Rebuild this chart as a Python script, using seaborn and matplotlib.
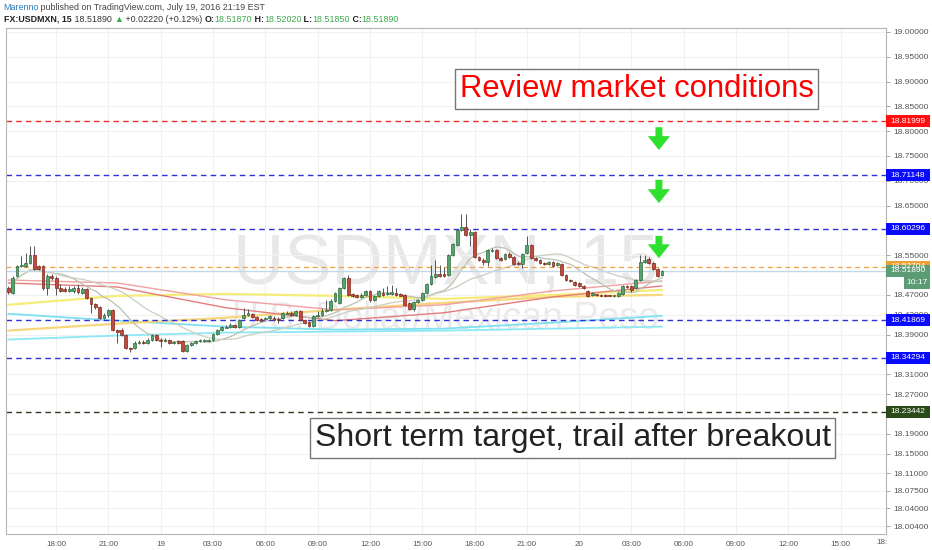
import numpy as np
import pandas as pd
import matplotlib
matplotlib.use("Agg")
import matplotlib.pyplot as plt
import matplotlib.transforms as mtransforms
from matplotlib.patches import Rectangle
import seaborn as sns

# ---- 15 minute candles, bar 0 = Jul 18 15:15 ----
opens = [
    18.484, 18.474, 18.508, 18.528, 18.528, 18.534, 18.550, 18.528, 18.528, 18.484,
    18.508, 18.504, 18.484, 18.482, 18.478, 18.478, 18.484, 18.474, 18.482, 18.464,
    18.452, 18.446, 18.424, 18.430, 18.440, 18.400, 18.400, 18.390, 18.362, 18.362,
    18.374, 18.376, 18.374, 18.380, 18.390, 18.380, 18.378, 18.380, 18.374, 18.378,
    18.378, 18.356, 18.368, 18.374, 18.378, 18.378, 18.378, 18.380, 18.392, 18.400,
    18.404, 18.406, 18.410, 18.406, 18.424, 18.430, 18.432, 18.426, 18.422, 18.422,
    18.424, 18.424, 18.422, 18.424, 18.432, 18.434, 18.430, 18.438, 18.420, 18.416,
    18.408, 18.428, 18.430, 18.438, 18.440, 18.458, 18.454, 18.484, 18.504, 18.472,
    18.470, 18.466, 18.470, 18.478, 18.460, 18.468, 18.474, 18.472, 18.472, 18.474,
    18.472, 18.470, 18.454, 18.442, 18.456, 18.460, 18.474, 18.492, 18.506, 18.512,
    18.512, 18.510, 18.550, 18.570, 18.600, 18.606, 18.590, 18.596, 18.546, 18.540,
    18.536, 18.558, 18.560, 18.544, 18.542, 18.552, 18.546, 18.534, 18.532, 18.554,
    18.570, 18.544, 18.540, 18.534, 18.532, 18.536, 18.530, 18.532, 18.510, 18.500,
    18.496, 18.494, 18.488, 18.478, 18.470, 18.472, 18.470, 18.470, 18.470, 18.468,
    18.468, 18.472, 18.488, 18.488, 18.484, 18.500, 18.536, 18.542, 18.534, 18.522,
    18.510,
]
highs = [
    18.488, 18.508, 18.530, 18.548, 18.554, 18.568, 18.568, 18.530, 18.530, 18.512,
    18.512, 18.508, 18.492, 18.486, 18.488, 18.488, 18.492, 18.486, 18.484, 18.466,
    18.454, 18.448, 18.434, 18.442, 18.442, 18.402, 18.404, 18.392, 18.364, 18.378,
    18.380, 18.380, 18.384, 18.392, 18.392, 18.384, 18.384, 18.382, 18.378, 18.380,
    18.380, 18.370, 18.376, 18.380, 18.382, 18.382, 18.382, 18.394, 18.402, 18.408,
    18.410, 18.414, 18.412, 18.422, 18.444, 18.442, 18.434, 18.428, 18.424, 18.426,
    18.430, 18.428, 18.426, 18.436, 18.438, 18.438, 18.440, 18.440, 18.422, 18.418,
    18.430, 18.438, 18.444, 18.460, 18.462, 18.476, 18.486, 18.506, 18.510, 18.474,
    18.472, 18.474, 18.480, 18.480, 18.470, 18.480, 18.484, 18.488, 18.490, 18.484,
    18.474, 18.472, 18.456, 18.458, 18.462, 18.476, 18.494, 18.530, 18.540, 18.530,
    18.526, 18.552, 18.574, 18.602, 18.634, 18.634, 18.602, 18.598, 18.548, 18.544,
    18.562, 18.564, 18.562, 18.546, 18.554, 18.556, 18.548, 18.538, 18.554, 18.588,
    18.572, 18.546, 18.542, 18.536, 18.538, 18.538, 18.536, 18.534, 18.512, 18.502,
    18.498, 18.496, 18.490, 18.480, 18.476, 18.472, 18.472, 18.472, 18.470, 18.470,
    18.476, 18.490, 18.490, 18.490, 18.502, 18.550, 18.550, 18.546, 18.536, 18.524,
    18.520,
]
lows = [
    18.472, 18.472, 18.506, 18.526, 18.526, 18.532, 18.520, 18.520, 18.480, 18.470,
    18.500, 18.470, 18.476, 18.476, 18.476, 18.474, 18.472, 18.472, 18.462, 18.434,
    18.442, 18.422, 18.422, 18.426, 18.398, 18.374, 18.388, 18.360, 18.354, 18.360,
    18.372, 18.372, 18.372, 18.378, 18.378, 18.364, 18.376, 18.372, 18.372, 18.372,
    18.354, 18.354, 18.366, 18.372, 18.376, 18.376, 18.376, 18.378, 18.390, 18.398,
    18.404, 18.404, 18.404, 18.404, 18.422, 18.428, 18.424, 18.418, 18.418, 18.420,
    18.422, 18.418, 18.414, 18.422, 18.432, 18.428, 18.428, 18.418, 18.412, 18.406,
    18.406, 18.426, 18.428, 18.436, 18.438, 18.456, 18.452, 18.482, 18.468, 18.466,
    18.464, 18.464, 18.468, 18.456, 18.458, 18.466, 18.468, 18.470, 18.470, 18.468,
    18.468, 18.448, 18.440, 18.438, 18.454, 18.458, 18.472, 18.490, 18.504, 18.506,
    18.506, 18.508, 18.548, 18.568, 18.598, 18.588, 18.568, 18.544, 18.538, 18.530,
    18.528, 18.556, 18.542, 18.538, 18.540, 18.544, 18.530, 18.530, 18.524, 18.552,
    18.542, 18.538, 18.532, 18.530, 18.530, 18.526, 18.528, 18.508, 18.498, 18.496,
    18.488, 18.486, 18.482, 18.466, 18.468, 18.468, 18.468, 18.466, 18.468, 18.466,
    18.466, 18.470, 18.484, 18.476, 18.482, 18.498, 18.534, 18.532, 18.520, 18.506,
    18.508,
]
closes = [
    18.476, 18.504, 18.528, 18.530, 18.534, 18.550, 18.522, 18.522, 18.484, 18.508,
    18.504, 18.484, 18.478, 18.478, 18.482, 18.484, 18.476, 18.482, 18.464, 18.452,
    18.446, 18.424, 18.430, 18.440, 18.400, 18.396, 18.390, 18.362, 18.360, 18.374,
    18.376, 18.374, 18.380, 18.390, 18.380, 18.378, 18.380, 18.374, 18.376, 18.374,
    18.356, 18.368, 18.374, 18.378, 18.380, 18.380, 18.380, 18.392, 18.400, 18.406,
    18.406, 18.410, 18.406, 18.420, 18.430, 18.434, 18.426, 18.420, 18.418, 18.424,
    18.428, 18.420, 18.420, 18.434, 18.434, 18.430, 18.438, 18.420, 18.414, 18.408,
    18.428, 18.430, 18.438, 18.440, 18.458, 18.474, 18.484, 18.504, 18.470, 18.468,
    18.466, 18.470, 18.478, 18.460, 18.468, 18.478, 18.470, 18.474, 18.476, 18.470,
    18.468, 18.450, 18.442, 18.456, 18.460, 18.474, 18.492, 18.508, 18.512, 18.508,
    18.508, 18.550, 18.572, 18.600, 18.606, 18.590, 18.596, 18.546, 18.540, 18.536,
    18.560, 18.560, 18.544, 18.540, 18.552, 18.546, 18.532, 18.532, 18.552, 18.570,
    18.544, 18.540, 18.534, 18.532, 18.536, 18.528, 18.534, 18.510, 18.500, 18.498,
    18.490, 18.488, 18.484, 18.468, 18.474, 18.470, 18.468, 18.468, 18.468, 18.470,
    18.474, 18.488, 18.486, 18.480, 18.500, 18.536, 18.540, 18.534, 18.522, 18.508,
    18.5189,
]

# slow moving averages at these bars
ma_bars = [0, 25, 50, 75, 100, 125, 150]
ma_cyan_a = [18.432, 18.418, 18.406, 18.400, 18.402, 18.414, 18.428]
ma_cyan_b = [18.380, 18.388, 18.394, 18.396, 18.398, 18.402, 18.406]
ma_yellow_a = [18.450, 18.468, 18.472, 18.468, 18.462, 18.470, 18.480]
ma_yellow_b = [18.398, 18.412, 18.424, 18.440, 18.454, 18.466, 18.470]
ma_pink_a = [18.500, 18.494, 18.460, 18.440, 18.450, 18.478, 18.498]
ma_pink_b = [18.494, 18.486, 18.444, 18.418, 18.434, 18.466, 18.488]

# drawn levels
level_prices = [18.81999, 18.71148, 18.60296, 18.41869, 18.34294, 18.23442]
level_colors = ["#ee2a2a", "#3030d8", "#3030d8", "#3030d8", "#3030d8", "#2b3a22"]
badge_colors = ["#ff1010", "#0a0aff", "#0a0aff", "#0a0aff", "#0a0aff", "#2a4a18"]
orange_level = 18.52704

# time axis
time_ticks = [11, 23, 35, 47, 59, 71, 83, 95, 107, 119, 131, 143, 155, 167, 179, 191]
time_labels = ["18:00", "21:00", "19", "03:00", "06:00", "09:00", "12:00", "15:00",
               "18:00", "21:00", "20", "03:00", "06:00", "09:00", "12:00", "15:00"]
# price scale labels (those hidden behind level badges are left out)
price_ticks = [19.0, 18.95, 18.90, 18.85, 18.80, 18.75, 18.70, 18.65, 18.55,
               18.47, 18.43, 18.39, 18.31, 18.27, 18.19, 18.15,
               18.11, 18.075, 18.04, 18.004]

W, H = 932, 550
sns.set_style("white")
plt.rcParams["font.family"] = ["Liberation Sans", "DejaVu Sans"]

fig = plt.figure(figsize=(W / 100, H / 100), dpi=100)
ax = fig.add_axes([6 / W, 16 / H, 880 / W, 506 / H])
ax.set_xlim(-0.5, 201.4)
ax.set_ylim(17.988, 19.008)

df = pd.DataFrame({"open": opens, "high": highs, "low": lows, "close": closes})
df["bar"] = np.arange(len(df))
df["ma_fast"] = df["close"].rolling(12, min_periods=1).mean()
df["ma_mid"] = df["close"].rolling(26, min_periods=1).mean()

# grid
ax.set_xticks(time_ticks)
ax.set_xticklabels(time_labels)
ax.set_yticks(price_ticks)
ax.set_yticklabels([f"{p:.5f}" for p in price_ticks])
ax.yaxis.tick_right()
ax.grid(True, color="#f1f1f1", lw=0.8, zorder=0)
ax.tick_params(axis="y", length=3, width=0.6, color="#999", labelsize=6, labelcolor="#555", pad=2)
ax.tick_params(axis="x", length=3, width=0.6, color="#999", labelsize=5.8, labelcolor="#555", pad=2)
for s in ax.spines.values():
    s.set_color("#b5b5b5")
    s.set_linewidth(0.8)

# watermark
ax.text(0.5, 0.53, "USDMXN, 15", transform=ax.transAxes, ha="center", va="center",
        fontsize=51, color="#e8e8e8", zorder=0.5)
ax.text(0.5, 0.425, "U.S. Dollar/Mexican Peso", transform=ax.transAxes, ha="center",
        va="center", fontsize=27, color="#eaeaea", zorder=0.5)

# slow moving averages
slow = [
    (ma_cyan_a, "#7fe0f0", 1.3), (ma_cyan_b, "#8ce8f4", 1.3),
    (ma_yellow_a, "#f6ec78", 1.6), (ma_yellow_b, "#f7d77a", 1.6),
    (ma_pink_a, "#f2a0a0", 1.0), (ma_pink_b, "#e57c7c", 1.0),
]
for vals, col, lw in slow:
    sns.lineplot(x=ma_bars, y=vals, ax=ax, color=col, lw=lw, zorder=1)
sns.lineplot(data=df, x="bar", y="ma_fast", ax=ax, color="#b9c2b0", lw=0.9, zorder=1)
sns.lineplot(data=df, x="bar", y="ma_mid", ax=ax, color="#c9cfc0", lw=0.9, zorder=1)
ax.set_xlabel("")
ax.set_ylabel("")

# horizontal levels
for p, c in zip(level_prices, level_colors):
    ax.axhline(p, color=c, lw=1.0, ls=(0, (4, 3)), zorder=2)
ax.axhline(orange_level, color="#f0a040", lw=0.9, ls=(0, (4, 3)), zorder=2)
ax.axhline(closes[-1], color="#c6d8e6", lw=1.0, zorder=2)

# candles
up = df["close"] >= df["open"]
body_lo = np.minimum(df["open"], df["close"])
body_h = np.maximum(np.abs(df["close"] - df["open"]), 0.0008)
ax.vlines(df["bar"], df["low"], df["high"], color="#555555", lw=0.7, zorder=3)
ax.bar(df["bar"][up], body_h[up], bottom=body_lo[up], width=0.64,
       color="#55a46c", edgecolor="#2f6a40", lw=0.5, zorder=4)
ax.bar(df["bar"][~up], body_h[~up], bottom=body_lo[~up], width=0.64,
       color="#c4493a", edgecolor="#7a2a20", lw=0.5, zorder=4)

# green arrows
for top, bot in [(18.808, 18.762), (18.702, 18.655), (18.589, 18.544)]:
    ax.annotate("", xy=(149.3, bot), xytext=(149.3, top),
                arrowprops=dict(arrowstyle="simple,head_length=1.0,head_width=1.6,tail_width=0.5",
                                fc="#2fe02f", ec="none", mutation_scale=10,
                                shrinkA=0, shrinkB=0), zorder=6)

# text boxes
ax.text(144.2, 18.885, "Review market conditions", ha="center", va="center", fontsize=22.3,
        color="#ff0000", zorder=7,
        bbox=dict(boxstyle="square,pad=0.15", fc="white", ec="#777777", lw=1))
ax.text(129.5, 18.181, "Short term target, trail after breakout", ha="center", va="center",
        fontsize=23, color="#222222", zorder=7,
        bbox=dict(boxstyle="square,pad=0.15", fc="white", ec="#777777", lw=1))

# price badges on the right scale
bt = mtransforms.blended_transform_factory(ax.transAxes, ax.transData)
bh = 12 / 496


def badge(price, label, color, x0=1.0, w=0.05, dy=0.0):
    ax.add_patch(Rectangle((x0, price - bh / 2 + dy), w, bh, transform=bt, fc=color,
                           ec="none", clip_on=False, zorder=10))
    ax.text(x0 + w / 2, price + dy, label, transform=bt, ha="center", va="center",
            fontsize=6, color="white", clip_on=False, zorder=11)


for p, c in zip(level_prices, badge_colors):
    badge(p, f"{p:.5f}", c)
badge(orange_level, f"{orange_level:.5f}", "#f0a030")
badge(closes[-1], "18.51890", "#5c9c74")
badge(closes[-1], "10:17", "#5c9c74", x0=1.02, w=0.03, dy=-bh)

fig.text(882 / W, 1 - 543 / H, "18:", fontsize=5.8, color="#555", ha="center", va="center")

# header
renderer = fig.canvas.get_renderer()


def write_line(x, y, pieces, size):
    for txt, col, wt in pieces:
        t = fig.text(x / W, 1 - y / H, txt, fontsize=size, color=col, fontweight=wt,
                     ha="left", va="center")
        x += t.get_window_extent(renderer=renderer).width


green = "#3aa84a"
write_line(3, 7, [("Marenno", "#2a7ab8", "normal"),
                  (" published on TradingView.com, July 19, 2016 21:19 EST", "#444444", "normal")], 6.4)
write_line(4, 19, [("FX:USDMXN, 15", "#222222", "bold"), (" 18.51890 ", "#333333", "normal"),
                   ("▲", green, "normal"), (" +0.02220 (+0.12%) ", "#333333", "normal"),
                   ("O:", "#222222", "bold"), ("18.51870", green, "normal"),
                   (" H:", "#222222", "bold"), ("18.52020", green, "normal"),
                   (" L:", "#222222", "bold"), ("18.51850", green, "normal"),
                   (" C:", "#222222", "bold"), ("18.51890", green, "normal")], 6.4)

fig.savefig("out.png", dpi=100)
